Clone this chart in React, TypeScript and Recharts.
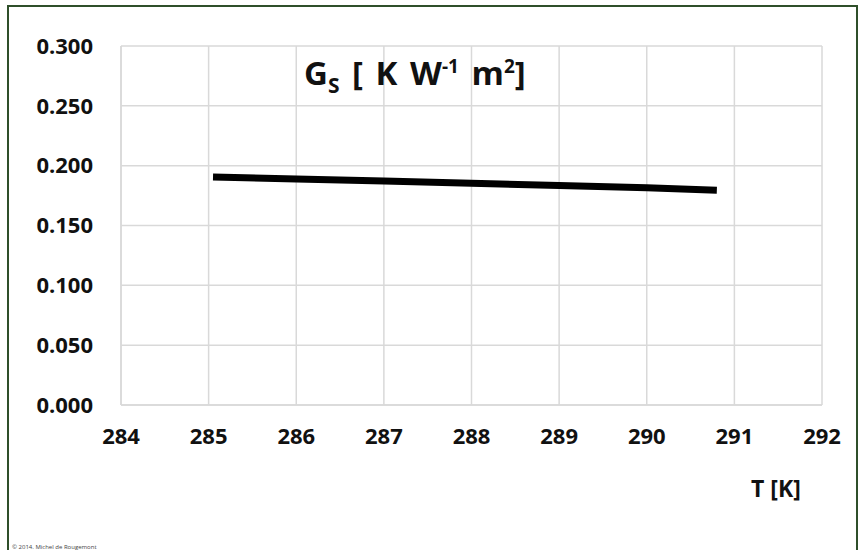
import { LineChart, Line, XAxis, YAxis, CartesianGrid } from 'recharts'

const temps = [285.05, 286, 287, 288, 289, 290, 290.8]
const gsValues = [0.1905, 0.1888, 0.1871, 0.1853, 0.1835, 0.1815, 0.1795]
const xTicks = [284, 285, 286, 287, 288, 289, 290, 291, 292]
const yTicks = [0, 0.05, 0.1, 0.15, 0.2, 0.25, 0.3]

const data = temps.map((t, i) => ({ t, gs: gsValues[i] }))

const font = '"Open Sans", "Liberation Sans", sans-serif'

export default function App() {
  return (
    <div style={{ position: 'absolute', left: 0, top: 0, width: 863, height: 550, background: '#fff', fontFamily: font }}>
      <div style={{ position: 'absolute', left: 7, top: 5, width: 851, height: 560, border: '2px solid #2f4f2a', borderBottom: 'none', boxSizing: 'border-box' }} />
      <LineChart width={863} height={550} data={data} margin={{ top: 46, right: 41, left: 0, bottom: 115 }}>
        <CartesianGrid stroke="#d9d9d9" strokeWidth={1.5} />
        <XAxis
          dataKey="t"
          type="number"
          domain={[284, 292]}
          ticks={xTicks}
          interval={0}
          height={30}
          tick={{ fill: '#111', fontSize: 22, fontWeight: 700, fontFamily: font, dy: 15 }}
          axisLine={{ stroke: '#d9d9d9', strokeWidth: 1.5 }}
          tickLine={false}
        />
        <YAxis
          type="number"
          domain={[0, 0.3]}
          ticks={yTicks}
          interval={0}
          width={121}
          tickFormatter={(v: number) => v.toFixed(3)}
          tick={{ fill: '#111', fontSize: 22, fontWeight: 700, fontFamily: font, dx: -20 }}
          axisLine={{ stroke: '#d9d9d9', strokeWidth: 1.5 }}
          tickLine={false}
        />
        <Line type="linear" dataKey="gs" stroke="#000" strokeWidth={7} dot={false} isAnimationActive={false} />
      </LineChart>
      <div style={{ position: 'absolute', left: 304, top: 50, fontSize: 33, fontWeight: 700, color: '#111', whiteSpace: 'nowrap', wordSpacing: 4 }}>
        G<sub style={{ fontSize: 21 }}>S</sub> [ K W<sup style={{ fontSize: 19 }}>-1</sup> m<sup style={{ fontSize: 19 }}>2</sup>]
      </div>
      <div style={{ position: 'absolute', left: 751, top: 472, fontSize: 23, fontWeight: 700, color: '#111' }}>T [K]</div>
      <div style={{ position: 'absolute', left: 12, top: 543, fontSize: 6, color: '#444' }}>© 2014. Michel de Rougemont</div>
    </div>
  )
}
